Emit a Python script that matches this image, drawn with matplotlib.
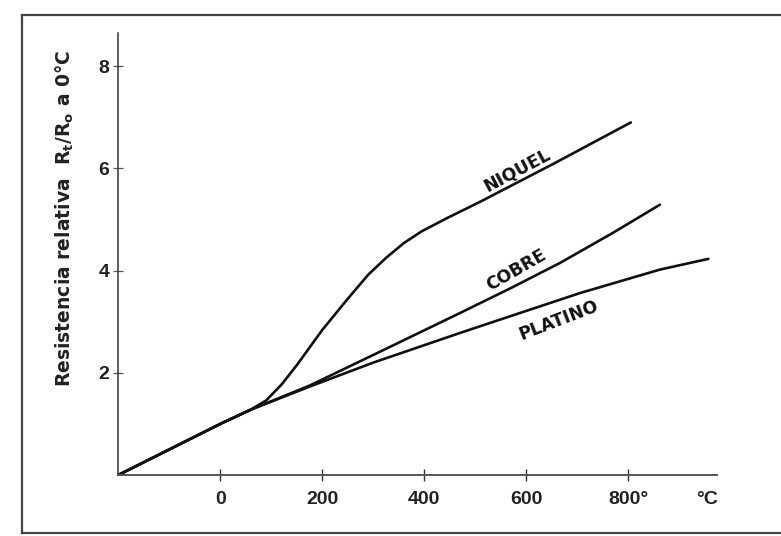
import matplotlib
matplotlib.use('Agg')
import matplotlib.pyplot as plt
from matplotlib.lines import Line2D

plt.rcParams['mathtext.default'] = 'regular'

# Values (temperature in degC, Rt/R0)
temp_niquel = [-200, 0, 60, 90, 120, 150, 200, 250, 290, 325, 360, 395, 445, 510, 655, 805]
r_niquel = [0.0, 1.0, 1.28, 1.46, 1.77, 2.15, 2.84, 3.45, 3.92, 4.25, 4.54, 4.77, 5.03, 5.35, 6.1, 6.9]

temp_cobre = [-200, 0, 60, 175, 300, 470, 570, 666, 770, 862]
r_cobre = [0.0, 1.0, 1.28, 1.75, 2.35, 3.17, 3.66, 4.15, 4.74, 5.29]

temp_platino = [-200, 0, 60, 175, 300, 470, 509, 705, 862, 957]
r_platino = [0.0, 1.0, 1.28, 1.73, 2.2, 2.78, 2.91, 3.56, 4.02, 4.23]

x_ticks = [0, 200, 400, 600, 800]
x_labels = ['0', '200', '400', '600', '800°']
y_ticks = [2, 4, 6, 8]
y_labels = ['2', '4', '6', '8']

tick_font = ['Liberation Sans', 'DejaVu Sans']

fig = plt.figure(figsize=(7.81, 5.36), dpi=100)
ax = fig.add_axes([0.1515, 0.1138, 0.7666, 0.8246])

ink = '#111111'
ax.plot(temp_niquel, r_niquel, color=ink, lw=1.9, solid_capstyle='round')
ax.plot(temp_cobre, r_cobre, color=ink, lw=1.9, solid_capstyle='round')
ax.plot(temp_platino, r_platino, color=ink, lw=1.9, solid_capstyle='round')

ax.set_xlim(-200, 974)
ax.set_ylim(0, 8.65)

for s in ['top', 'right']:
    ax.spines[s].set_visible(False)
ax.spines['left'].set_color('#333333')
ax.spines['left'].set_linewidth(1.1)
ax.spines['bottom'].set_color('#555555')
ax.spines['bottom'].set_linewidth(1.4)

# x ticks, with the unit placed as an extra label at the end of the axis
ax.set_xticks(x_ticks + [955])
ax.set_xticklabels(x_labels + ['°C'], family=tick_font, fontweight='bold', fontsize=14, color='#222222')
ax.set_yticks(y_ticks)
ax.set_yticklabels(y_labels, family=tick_font, fontweight='bold', fontsize=14, color='#222222')
ax.tick_params(axis='x', direction='inout', length=9, width=1.0, pad=7, color='#333333')
ax.tick_params(axis='y', direction='inout', length=7, width=0.9, pad=3, color='#555555')
ax.xaxis.get_major_ticks()[-1].tick1line.set_visible(False)

ax.set_ylabel('Resistencia relativa  R$_t$/R$_o$ a 0°C', fontsize=13.5, color='#222222',
              fontweight='bold')
ax.yaxis.set_label_coords(-0.07, 0.58)

# curve names written along the lines
ax.text(582, 5.96, 'NIQUEL', rotation=28, fontsize=12.5, fontweight='bold', color=ink,
        ha='center', va='center', family='DejaVu Sans')
ax.text(580, 4.0, 'COBRE', rotation=30, fontsize=12.5, fontweight='bold', color=ink,
        ha='center', va='center', family='DejaVu Sans')
ax.text(664, 3.02, 'PLATINO', rotation=21, fontsize=12.5, fontweight='bold', color=ink,
        ha='center', va='center', family='DejaVu Sans')

# frame of the scanned page
W, H = 781, 536
frame = dict(color='#444444', lw=1.6, transform=fig.transFigure)
fig.add_artist(Line2D([22 / W, 1.0], [1 - 15 / H, 1 - 15 / H], **frame))
fig.add_artist(Line2D([22 / W, 22 / W], [1 - 15 / H, 1 - 533 / H], **frame))
fig.add_artist(Line2D([22 / W, 1.0], [1 - 533 / H, 1 - 533 / H], **frame))

fig.savefig('out.png', dpi=100, facecolor='white')
